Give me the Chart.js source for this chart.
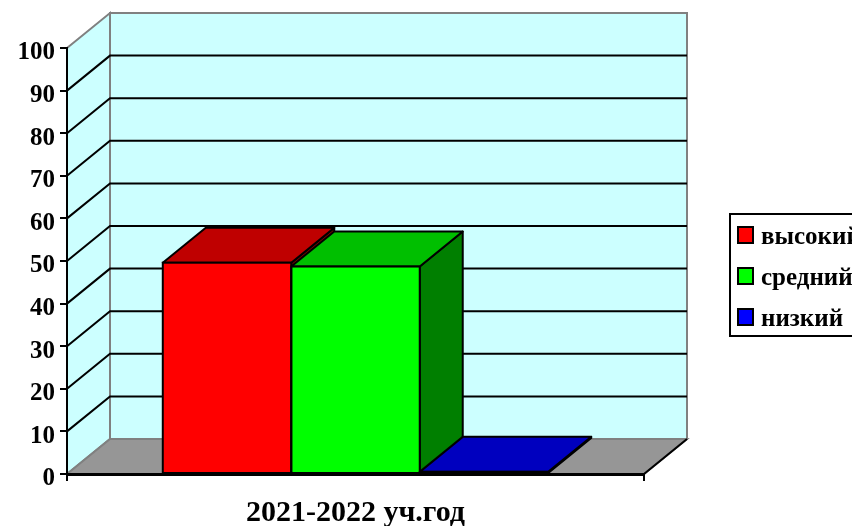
<!DOCTYPE html>
<html>
<head>
<meta charset="utf-8">
<title>2021-2022 уч.год</title>
<script src="https://cdn.jsdelivr.net/npm/chart.js@4/dist/chart.umd.js"></script>
<style>
    html, body { margin: 0; padding: 0; background: #ffffff; overflow: hidden; }
    canvas { display: block; }
</style>
</head>
<body>
<canvas id="levelChart" width="852" height="526"></canvas>
<script>
// Chart data
const categories = ['2021-2022 уч.год'];
const seriesNames = ['высокий', 'средний', 'низкий'];
const highValues = [49.6];
const middleValues = [48.7];
const lowValues = [0.5];
const yTicks = [0, 10, 20, 30, 40, 50, 60, 70, 80, 90, 100];

// Colours of the front, top and side of each bar
const frontColors = ['#ff0000', '#00ff00', '#0000ff'];
const topColors = ['#bf0000', '#00bf00', '#0000bf'];
const sideColors = ['#7f0000', '#007f00', '#00007f'];

const FONT = '"Liberation Serif", "Times New Roman", serif';

// Depth of the fake 3D box
const depthX = 43;
const depthY = -35;

// Walls, floor and the slanted grid lines behind the bars
const wallsPlugin = {
    id: 'walls',
    beforeDraw(chart) {
        const c = chart.ctx;
        const y = chart.scales.y;
        const left = chart.chartArea.left;
        const right = chart.chartArea.right;
        const top = y.getPixelForValue(100);
        const bottom = y.getPixelForValue(0);

        const poly = (pts, fill, stroke) => {
            c.beginPath();
            pts.forEach((p, i) => i ? c.lineTo(p[0], p[1]) : c.moveTo(p[0], p[1]));
            c.closePath();
            if (fill) {
                c.fillStyle = fill;
                c.fill();
            }
            if (stroke) {
                c.strokeStyle = stroke;
                c.lineWidth = 2;
                c.stroke();
            }
        };

        c.save();
        poly([[left + depthX, top + depthY], [right + depthX, top + depthY], [right + depthX, bottom + depthY], [left + depthX, bottom + depthY]], '#ccffff', '#808080');
        poly([[left, top], [left + depthX, top + depthY], [left + depthX, bottom + depthY], [left, bottom]], '#ccffff', '#808080');
        poly([[left, bottom], [left + depthX, bottom + depthY], [right + depthX, bottom + depthY], [right, bottom]], '#969696', '#808080');

        // right edge of the floor is black
        c.strokeStyle = '#000000';
        c.lineWidth = 2;
        c.beginPath();
        c.moveTo(right, bottom);
        c.lineTo(right + depthX, bottom + depthY);
        c.stroke();

        yTicks.slice(1, -1).forEach(v => {
            const py = y.getPixelForValue(v);
            c.beginPath();
            c.moveTo(left, py);
            c.lineTo(left + depthX, py + depthY);
            c.lineTo(right + depthX, py + depthY);
            c.stroke();
        });
        c.restore();
    }
};

// Top and side of each bar, then the outline of the front
const barBoxPlugin = {
    id: 'barBox',
    beforeDatasetsDraw(chart) {
        const c = chart.ctx;
        c.save();
        c.strokeStyle = '#000000';
        c.lineWidth = 2;
        c.lineJoin = 'round';

        // left to right, so the next bar covers the side of the one before
        chart.data.datasets.forEach((ds, i) => {
            const bar = chart.getDatasetMeta(i).data[0];
            const x0 = bar.x - bar.width / 2;
            const x1 = bar.x + bar.width / 2;

            c.fillStyle = sideColors[i];
            c.beginPath();
            c.moveTo(x1, bar.y);
            c.lineTo(x1 + depthX, bar.y + depthY);
            c.lineTo(x1 + depthX, bar.base + depthY);
            c.lineTo(x1, bar.base);
            c.closePath();
            c.fill();
            c.stroke();

            c.fillStyle = topColors[i];
            c.beginPath();
            c.moveTo(x0, bar.y);
            c.lineTo(x0 + depthX, bar.y + depthY);
            c.lineTo(x1 + depthX, bar.y + depthY);
            c.lineTo(x1, bar.y);
            c.closePath();
            c.fill();
            c.stroke();
        });
        c.restore();
    },
    afterDatasetsDraw(chart) {
        const c = chart.ctx;
        c.save();
        c.strokeStyle = '#000000';
        c.lineWidth = 2;
        chart.data.datasets.forEach((ds, i) => {
            const bar = chart.getDatasetMeta(i).data[0];
            c.strokeRect(bar.x - bar.width / 2, bar.y, bar.width, bar.base - bar.y);
        });
        c.restore();
    }
};

// Legend box, cut off by the right edge like in the original
const legendBoxPlugin = {
    id: 'legendBox',
    afterDraw(chart) {
        const c = chart.ctx;
        c.save();
        c.strokeStyle = '#000000';
        c.lineWidth = 2;
        c.strokeRect(730, 214, 140, 122);
        c.font = 'bold 25px ' + FONT;
        c.textBaseline = 'middle';
        chart.data.datasets.forEach((ds, i) => {
            const rowY = 235 + i * 41;
            c.fillStyle = ds.backgroundColor;
            c.fillRect(738, rowY - 8, 15, 16);
            c.strokeRect(738, rowY - 8, 15, 16);
            c.fillStyle = '#000000';
            c.fillText(ds.label, 761, rowY + 3);
        });
        c.restore();
    }
};

const datasets = [highValues, middleValues, lowValues].map((values, i) => ({
    label: seriesNames[i],
    data: values,
    backgroundColor: frontColors[i],
    borderWidth: 0
}));

const ctx = document.getElementById('levelChart').getContext('2d');

new Chart(ctx, {
    type: 'bar',
    data: { labels: categories, datasets: datasets },
    plugins: [wallsPlugin, barBoxPlugin, legendBoxPlugin],
    options: {
        responsive: false,
        animation: false,
        layout: { padding: { top: 48, right: 208, bottom: 0, left: 0 } },
        plugins: {
            legend: { display: false },
            tooltip: { enabled: false }
        },
        datasets: {
            bar: { categoryPercentage: 0.668, barPercentage: 1 }
        },
        scales: {
            x: {
                afterFit(scale) { scale.height = 52; },
                border: { color: '#000000', width: 3 },
                grid: { drawOnChartArea: false, color: '#000000', tickColor: '#000000', tickLength: 7, lineWidth: 2 },
                ticks: {
                    color: '#000000',
                    padding: 14,
                    font: { family: FONT, size: 30, weight: 'bold' }
                }
            },
            y: {
                min: 0,
                max: 100,
                afterFit(scale) { scale.width = 67; },
                afterBuildTicks(scale) { scale.ticks = yTicks.map(v => ({ value: v })); },
                border: { color: '#000000', width: 2 },
                grid: { drawOnChartArea: false, color: '#000000', tickColor: '#000000', tickLength: 7, lineWidth: 2 },
                ticks: {
                    color: '#000000',
                    padding: 5,
                    labelOffset: 5,
                    font: { family: FONT, size: 25, weight: 'bold' }
                }
            }
        }
    }
});
</script>
</body>
</html>
